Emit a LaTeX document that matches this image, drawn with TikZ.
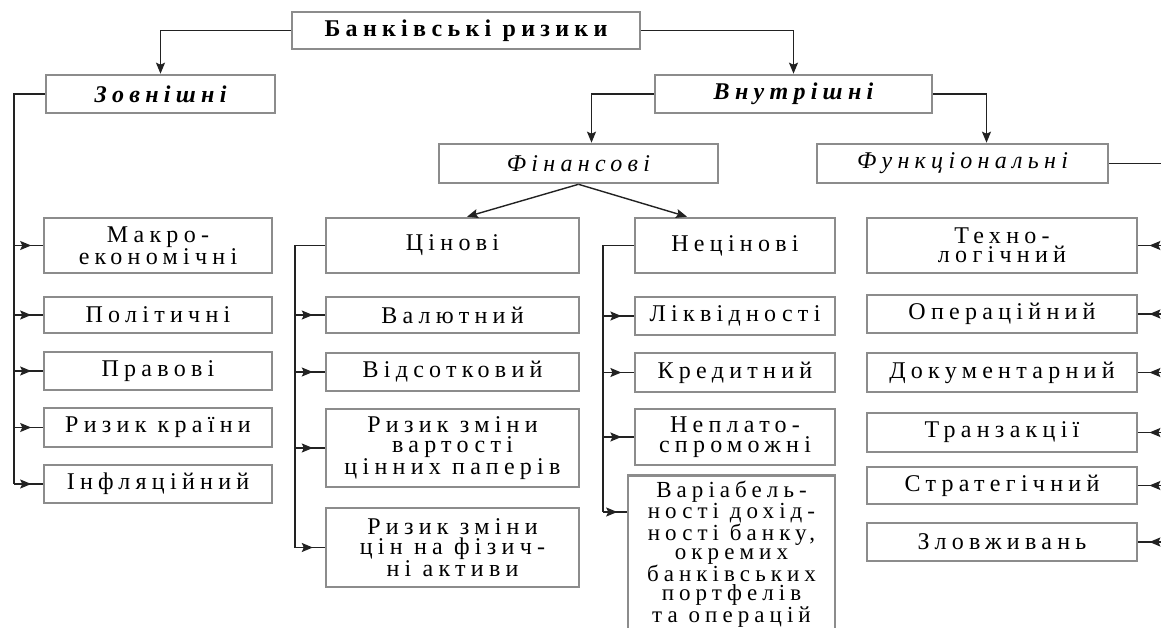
\documentclass[tikz,border=0pt]{standalone}
\usepackage{fontspec}
\setmainfont{Liberation Serif}
\newfontfamily\boxfont{Liberation Serif}[LetterSpace=22]
\usetikzlibrary{arrows.meta,decorations.markings}
\definecolor{boxgray}{HTML}{8C8C8C}
\definecolor{linedark}{HTML}{222222}

\begin{document}
\begin{tikzpicture}[x=1pt,y=-1pt,
  box/.style={draw=boxgray,line width=2.6pt,fill=white,align=center,inner sep=1pt,
    font=\boxfont\fontsize{24}{19.5}\selectfont},
  head/.style={box,font=\boxfont\bfseries\fontsize{24}{20}\selectfont},
  headit/.style={box,font=\boxfont\bfseries\itshape\fontsize{24}{20}\selectfont},
  subit/.style={box,font=\boxfont\itshape\fontsize{24}{20}\selectfont},
  link/.style={color=linedark,line width=1.4pt},
  tip/.style={link,-{Stealth[length=11pt,width=9pt,inset=2pt]}},
  midarr/.style={link,postaction={decorate},decoration={markings,
    mark=at position 0.6 with {\arrow{Stealth[length=11pt,width=9pt,inset=2pt]}}}}]
\useasboundingbox (0,0) rectangle (1161,628);

% top levels
\node[head,minimum width=348pt,minimum height=37pt] (bank) at (466,30.5) {Банківські ризики};
\node[headit,minimum width=229pt,minimum height=38pt] (zovn) at (160.5,94) {Зовнішні};
\node[headit,minimum width=277pt,minimum height=38pt] (vnutr) at (793.5,94) {Внутрішні};
\node[subit,minimum width=279pt,minimum height=39pt] (fin) at (578.5,163.5) {Фінансові};
\node[subit,minimum width=291pt,minimum height=39pt] (func) at (962.5,163.5) {Функціональні};

% external risks
\node[box,minimum width=228pt,minimum height=55pt] (makro) at (158,245.5) {Макро-\\економічні};
\node[box,minimum width=228pt,minimum height=36pt] (polit) at (158,315) {Політичні};
\node[box,minimum width=228pt,minimum height=38pt] (prav) at (158,371) {Правові};
\node[box,minimum width=228pt,minimum height=39pt] (krain) at (158,427.5) {Ризик країни};
\node[box,minimum width=228pt,minimum height=38pt] (infl) at (158,484) {Інфляційний};

% price risks
\node[box,minimum width=253pt,minimum height=55pt] (cin) at (452.5,245.5) {Цінові};
\node[box,minimum width=253pt,minimum height=36pt] (valut) at (452.5,315) {Валютний};
\node[box,minimum width=253pt,minimum height=38pt] (vidsot) at (452.5,372) {Відсотковий};
\node[box,minimum width=253pt,minimum height=78pt] (vart) at (452.5,448) {Ризик зміни\\вартості\\цінних паперів};
\node[box,minimum width=253pt,minimum height=79pt] (fiz) at (452.5,547.5) {Ризик зміни\\цін на фізич-\\ні активи};

% non-price risks
\node[box,minimum width=200pt,minimum height=55pt] (necin) at (735,245.5) {Нецінові};
\node[box,minimum width=200pt,minimum height=38pt] (likv) at (735,316) {Ліквідності};
\node[box,minimum width=200pt,minimum height=39pt] (kred) at (735,372.5) {Кредитний};
\node[box,minimum width=200pt,minimum height=56pt] (neplat) at (735,437) {Неплато-\\спроможні};
\node[box,minimum width=207pt,anchor=north,text height=146pt,text depth=30pt,
  font=\boxfont\fontsize{23}{18.8}\selectfont] (variab) at (731.5,474)
  {Варіабель-\\ності дохід-\\ності банку,\\окремих\\банківських\\портфелів\\та операцій};

% functional risks
\node[box,minimum width=270pt,minimum height=55pt] (tekhno) at (1002,245.5) {Техно-\\логічний};
\node[box,minimum width=270pt,minimum height=38pt] (oper) at (1002,314) {Операційний};
\node[box,minimum width=270pt,minimum height=39pt] (dokum) at (1002,372.5) {Документарний};
\node[box,minimum width=270pt,minimum height=39pt] (tranz) at (1002,432.5) {Транзакції};
\node[box,minimum width=270pt,minimum height=37pt] (strat) at (1002,485.5) {Стратегічний};
\node[box,minimum width=270pt,minimum height=38pt] (zlov) at (1002,542) {Зловживань};

% bus ends
\coordinate (zbus) at (14,484);
\coordinate (cbus) at (295,547.5);
\coordinate (nbus) at (603,512);
\coordinate (fbus) at (1166,542);

% connectors
\draw[tip] (bank.west) -| (zovn.north);
\draw[tip] (bank.east) -| (vnutr.north);
\draw[tip] (vnutr.west) -| ([xshift=13pt]fin.north);
\draw[tip] (vnutr.east) -| ([xshift=24pt]func.north);
\draw[tip] (fin.south) -- ([xshift=14.5pt]cin.north);
\draw[tip] (fin.south) -- ([xshift=-48pt]necin.north);

\draw[link] (zovn.west) -| (zbus);
\foreach \n in {makro,polit,prav,krain,infl}
  \draw[midarr] (zbus |- \n.west) -- (\n.west);

\draw[link] (cin.west) -| (cbus);
\foreach \n in {valut,vidsot,vart,fiz}
  \draw[midarr] (cbus |- \n.west) -- (\n.west);

\draw[link] (necin.west) -| (nbus);
\foreach \n in {likv,kred,neplat}
  \draw[midarr] (nbus |- \n.west) -- (\n.west);
\draw[midarr] (nbus) -- (nbus -| variab.west);

\draw[link] (func.east) -| (fbus);
\foreach \n in {tekhno,oper,dokum,tranz,strat,zlov}
  \draw[midarr] (fbus |- \n.east) -- (\n.east);
\end{tikzpicture}
\end{document}
